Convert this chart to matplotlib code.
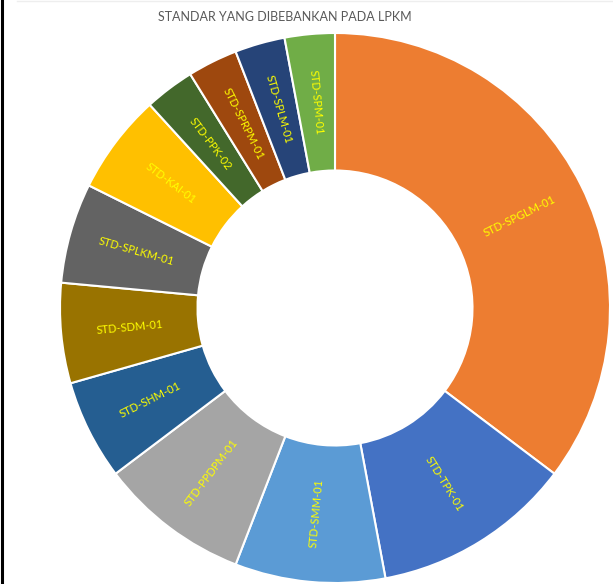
import numpy as np
import matplotlib
matplotlib.use("Agg")
import matplotlib.pyplot as plt

# data (share of standards)
labels = ["STD-SPGLM-01", "STD-TPK-01", "STD-SMM-01", "STD-PPDPM-01",
          "STD-SHM-01", "STD-SDM-01", "STD-SPLKM-01", "STD-KAI-01",
          "STD-PPK-02", "STD-SPRPM-01", "STD-SPLM-01", "STD-SPM-01"]
values = [12, 4, 3, 3, 2, 2, 2, 2, 1, 1, 1, 1]
colors = ["#ED7D31", "#4472C4", "#5B9BD5", "#A5A5A5", "#255E91", "#997300",
          "#636363", "#FFC000", "#43682B", "#9E480E", "#264478", "#70AD47"]

W, H = 613, 584
fig = plt.figure(figsize=(W / 100, H / 100), dpi=100)
ax = fig.add_axes([0, 0, 1, 1])

cx, cy, R = 335, H - 308, 275
wedges, _ = ax.pie(values, colors=colors, startangle=90, counterclock=False,
                   center=(cx, cy), radius=R,
                   wedgeprops=dict(width=R * 0.5, edgecolor="white", linewidth=1.5))
# pie resets the limits, so set them afterwards
ax.set_xlim(0, W)
ax.set_ylim(0, H)
ax.set_aspect("equal")
ax.axis("off")

# labels along the radius, in the middle of the ring
for w, lab in zip(wedges, labels):
    ang = (w.theta1 + w.theta2) / 2
    r = R * 0.75
    x = cx + r * np.cos(np.radians(ang))
    y = cy + r * np.sin(np.radians(ang))
    rot = ang % 360
    if 90 < rot < 270:
        rot -= 180
    ax.text(x, y, lab, ha="center", va="center", rotation=rot,
            rotation_mode="anchor", color="#FFFF00", fontsize=8,
            family=["Lato", "DejaVu Sans"])

fig.text(285 / W, 1 - 17 / H, "STANDAR YANG DIBEBANKAN PADA LPKM", ha="center",
         va="center", color="#595959", fontsize=9, family=["Lato", "DejaVu Sans"])

# frame bits seen at the edges of the screenshot
fig.add_artist(plt.Line2D([2 / W, 2 / W], [0, 1], color="black", linewidth=2.2))
fig.add_artist(plt.Line2D([17 / W, 1], [1 - 0.5 / H, 1 - 0.5 / H], color="#EEEEEE", linewidth=1))

fig.savefig("out.png", dpi=100)
